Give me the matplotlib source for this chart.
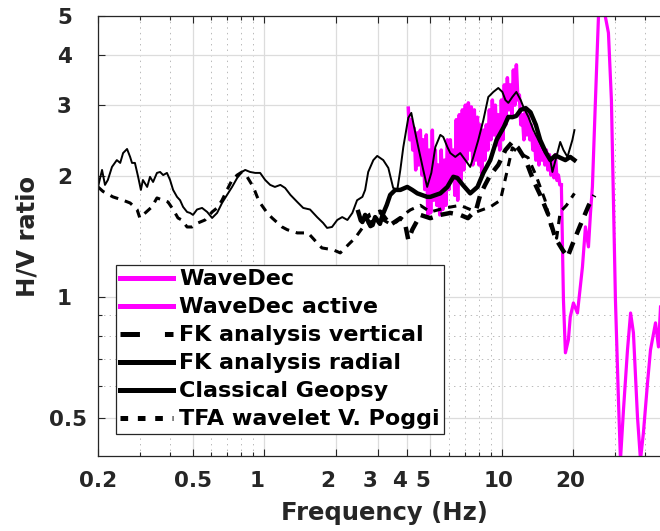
import matplotlib
matplotlib.use("Agg")
import matplotlib.pyplot as plt
from matplotlib.ticker import FixedLocator, FixedFormatter, NullFormatter
from matplotlib.transforms import ScaledTranslation

# H/V spectral ratio curves, frequency in Hz
wavedec_f = [4.04, 4.10, 4.16, 4.22, 4.28, 4.34, 4.41, 4.47, 4.54, 4.61,
             4.67, 4.74, 4.81, 4.88, 4.95, 5.02, 5.10, 5.17, 5.25, 5.33,
             5.40, 5.48, 5.56, 5.64, 5.73, 5.81, 5.90, 5.99, 6.07, 6.16,
             6.25, 6.34, 6.43, 6.52, 6.62, 6.72, 6.82, 6.92, 7.02, 7.12,
             7.23, 7.34, 7.44, 7.55, 7.66, 7.77, 7.89, 8.01, 8.12, 8.24,
             8.36, 8.48, 8.60, 8.73, 8.86, 8.99, 9.12, 9.25, 9.39, 9.53,
             9.66, 9.80, 9.95, 10.10, 10.24, 10.39, 10.55, 10.70, 10.86, 11.02,
             11.18, 11.34, 11.51, 11.68, 11.85, 12.02, 12.20, 12.38, 12.56, 12.74,
             12.93, 13.12, 13.31, 13.51, 13.70, 13.90, 14.11, 14.32, 14.52, 14.73,
             14.95, 15.17, 15.39, 15.62, 15.85, 16.08, 16.32, 16.56, 16.80, 17.05,
             17.29, 17.54, 17.80]
wavedec_hv = [2.95, 2.46, 2.76, 2.32, 2.63, 2.07, 2.56, 2.13, 2.60, 2.01,
              2.46, 1.85, 2.53, 1.60, 2.32, 1.62, 2.60, 1.74, 2.32, 1.69,
              2.13, 1.60, 2.32, 1.65, 2.19, 1.69, 2.46, 1.85, 2.46, 2.01,
              2.32, 1.79, 2.76, 1.74, 2.84, 1.95, 2.92, 2.07, 3.00, 2.19,
              3.04, 2.32, 2.97, 2.13, 2.92, 2.19, 2.80, 2.13, 2.68, 2.01,
              2.60, 2.19, 2.68, 2.32, 2.92, 2.46, 3.09, 2.53, 3.00, 2.39,
              2.84, 2.32, 3.09, 2.46, 3.37, 2.68, 3.51, 2.92, 3.37, 2.84,
              3.67, 3.00, 3.78, 3.09, 3.18, 2.68, 2.84, 2.46, 2.92, 2.53,
              2.84, 2.46, 2.68, 2.32, 2.53, 2.19, 2.46, 2.13, 2.39, 2.19,
              2.32, 2.13, 2.32, 2.07, 2.26, 2.01, 2.19, 1.98, 2.26, 1.95,
              2.01, 1.90, 1.90]

active_f = [17.80, 18.16, 18.51, 19.05, 19.4, 20.0, 20.8, 21.83, 22.47, 23.14,
            23.6, 24.04, 24.76, 25.49, 26.0, 26.75, 27.27, 28.08, 28.9, 29.47,
            30.05, 30.94, 31.55, 32.48, 33.77, 34.8, 35.77, 37.2, 38.3, 39.4,
            41.0, 42.2, 44.3, 45.6, 46.5]
active_hv = [1.90, 0.983, 0.726, 0.782, 0.892, 0.966, 0.912, 1.187, 1.494, 1.332,
             1.618, 1.878, 3.09, 4.97, 6.15, 5.8, 4.97, 4.54, 3.09, 1.743,
             0.983, 0.554, 0.393, 0.523, 0.738, 0.912, 0.814, 0.503, 0.393, 0.459,
             0.611, 0.738, 0.862, 0.751, 0.944]

fkv_f = [2.54, 2.79, 3.08, 3.39, 3.74, 3.90, 4.04, 4.20, 4.54, 5.00,
         5.51, 6.07, 6.68, 7.20, 7.80, 8.11, 8.50, 8.94, 9.66, 10.35,
         11.07, 11.70, 12.60, 13.57, 14.50, 15.70, 16.80, 18.00, 18.90, 19.80,
         21.40, 23.20, 24.50]
fkv_hv = [1.536, 1.60, 1.63, 1.51, 1.57, 1.54, 1.386, 1.47, 1.60, 1.57,
          1.60, 1.618, 1.60, 1.57, 1.65, 1.794, 1.90, 2.01, 2.13, 2.32,
          2.43, 2.35, 2.19, 1.95, 1.794, 1.60, 1.40, 1.31, 1.257, 1.35,
          1.51, 1.69, 1.79]

fkr_f = [2.49, 2.55, 2.59, 2.66, 2.72, 2.80, 2.86, 2.93, 2.99, 3.07,
         3.15, 3.28, 3.39, 3.56, 3.74, 4.00, 4.20, 4.41, 4.85, 5.00,
         5.51, 5.90, 6.25, 6.50, 6.85, 7.36, 7.90, 8.36, 8.94, 9.50,
         10.20, 10.65, 11.07, 11.50, 12.00, 12.60, 13.20, 13.90, 14.50, 15.30,
         16.00, 16.80, 17.60, 18.50, 19.40, 20.20]
fkr_hv = [1.627, 1.55, 1.536, 1.60, 1.554, 1.50, 1.51, 1.58, 1.554, 1.52,
          1.60, 1.694, 1.794, 1.846, 1.846, 1.878, 1.846, 1.81, 1.774, 1.774,
          1.81, 1.878, 1.99, 1.977, 1.90, 1.81, 1.878, 2.035, 2.19, 2.457,
          2.65, 2.805, 2.80, 2.82, 2.92, 2.95, 2.88, 2.68, 2.457, 2.29,
          2.19, 2.25, 2.22, 2.19, 2.23, 2.19]

geopsy_f = [0.200, 0.208, 0.214, 0.220, 0.229, 0.240, 0.248, 0.255, 0.265, 0.273,
            0.278, 0.286, 0.295, 0.303, 0.309, 0.322, 0.331, 0.341, 0.354, 0.365,
            0.376, 0.390, 0.402, 0.414, 0.430, 0.443, 0.456, 0.474, 0.488, 0.502,
            0.522, 0.548, 0.576, 0.604, 0.634, 0.665, 0.698, 0.733, 0.770, 0.807,
            0.832, 0.873, 0.917, 0.962, 1.01, 1.06, 1.11, 1.17, 1.225, 1.29,
            1.378, 1.46, 1.56, 1.67, 1.77, 1.84, 1.93, 2.03, 2.13, 2.24,
            2.35, 2.46, 2.59, 2.66, 2.74, 2.88, 2.99, 3.17, 3.33, 3.49,
            3.63, 3.74, 3.85, 4.04, 4.16, 4.24, 4.45, 4.67, 4.85, 5.05,
            5.25, 5.51, 5.67, 5.90, 6.07, 6.37, 6.68, 7.02, 7.36, 7.59,
            7.96, 8.36, 8.77, 9.21, 9.66, 10.05, 10.35, 10.65, 11.07, 11.51,
            12.0, 12.32, 12.93, 13.57, 14.24, 14.95, 16.0, 16.32, 17.12, 17.6,
            18.16, 18.88, 19.8, 20.2]
geopsy_hv = [1.878, 2.07, 1.90, 1.954, 2.106, 2.19, 2.155, 2.28, 2.334, 2.23,
             2.155, 2.155, 1.99, 1.846, 1.954, 1.878, 1.99, 1.932, 2.035, 2.046,
             2.01, 2.035, 1.954, 1.846, 1.774, 1.74, 1.675, 1.627, 1.618, 1.60,
             1.65, 1.665, 1.627, 1.572, 1.618, 1.713, 1.794, 1.878, 1.977, 2.046,
             2.07, 2.046, 2.035, 2.035, 1.954, 1.90, 1.878, 1.90, 1.867, 1.794,
             1.723, 1.665, 1.65, 1.58, 1.528, 1.485, 1.493, 1.554, 1.58, 1.554,
             1.618, 1.74, 1.774, 1.846, 2.046, 2.19, 2.243, 2.19, 2.094, 1.867,
             1.846, 2.07, 2.36, 2.79, 2.87, 2.71, 2.36, 2.07, 1.878, 2.035,
             2.36, 2.53, 2.50, 2.36, 2.28, 2.23, 2.28, 2.19, 2.106, 2.23,
             2.457, 2.755, 3.144, 3.236, 3.31, 3.236, 3.09, 3.04, 3.144, 3.236,
             3.09, 2.97, 2.805, 2.603, 2.457, 2.32, 2.19, 2.046, 2.28, 2.43,
             2.32, 2.23, 2.457, 2.60]

tfa_f = [0.200, 0.210, 0.231, 0.255, 0.273, 0.292, 0.300, 0.316, 0.337, 0.354,
         0.376, 0.394, 0.414, 0.434, 0.450, 0.474, 0.497, 0.527, 0.564, 0.604,
         0.634, 0.665, 0.698, 0.733, 0.770, 0.807, 0.848, 0.900, 0.935, 0.962,
         1.03, 1.08, 1.19, 1.25, 1.378, 1.53, 1.67, 1.75, 1.95, 2.09,
         2.30, 2.41, 2.59, 2.79, 3.08, 3.33, 3.60, 3.85, 4.12, 4.54,
         5.00, 5.78, 6.68, 7.80, 8.94, 9.86, 10.55, 11.07, 11.70, 12.90,
         13.90, 15.20, 16.00, 17.00, 17.60, 18.70, 20.20]
tfa_hv = [1.878, 1.83, 1.774, 1.74, 1.713, 1.65, 1.572, 1.618, 1.675, 1.763,
          1.74, 1.723, 1.65, 1.572, 1.554, 1.493, 1.493, 1.528, 1.554, 1.627,
          1.665, 1.74, 1.846, 1.954, 2.01, 2.046, 1.99, 1.878, 1.774, 1.713,
          1.618, 1.572, 1.493, 1.47, 1.443, 1.443, 1.363, 1.324, 1.31, 1.287,
          1.363, 1.40, 1.485, 1.536, 1.57, 1.528, 1.536, 1.60, 1.646, 1.69,
          1.627, 1.665, 1.69, 1.627, 1.675, 1.74, 2.07, 2.35, 2.29, 2.22,
          2.01, 1.74, 1.51, 1.40, 1.627, 1.69, 1.81]

x_ticks = [0.2, 0.5, 1, 2, 3, 4, 5, 10, 20]
x_ticklabels = ["0.2", "0.5", "1", "2", "3", "4", "5", "10", "20"]
x_minor = [0.3, 0.4, 0.6, 0.7, 0.8, 0.9, 6, 7, 8, 9, 30, 40]
y_ticks = [0.5, 1, 2, 3, 4, 5]
y_ticklabels = ["0.5", "1", "2", "3", "4", "5"]
y_minor = [0.6, 0.7, 0.8, 0.9]

labels = ["WaveDec", "WaveDec active", "FK analysis vertical",
          "FK analysis radial", "Classical Geopsy", "TFA wavelet V. Poggi"]

plt.rcParams["font.family"] = "DejaVu Sans"
plt.rcParams["font.weight"] = "bold"
plt.rcParams["lines.scale_dashes"] = False

GRAY = "#262626"
MAG = "#ff00ff"

fig = plt.figure(figsize=(6.6, 5.31), dpi=100)
ax = fig.add_axes([98 / 660, 1 - 456 / 531, 570 / 660, 440 / 531])

ax.plot(wavedec_f, wavedec_hv, color=MAG, lw=2.5, label=labels[0])
ax.plot(active_f, active_hv, color=MAG, lw=2.3, label=labels[1])
ax.plot(fkv_f, fkv_hv, color="k", lw=3.2, dashes=(9, 6), label=labels[2])
ax.plot(fkr_f, fkr_hv, color="k", lw=3.2, label=labels[3])
ax.plot(geopsy_f, geopsy_hv, color="k", lw=1.4, label=labels[4])
ax.plot(tfa_f, tfa_hv, color="k", lw=2.2, dashes=(6, 5), label=labels[5])

ax.set_xscale("log")
ax.set_yscale("log")
ax.set_xlim(0.2, 50)
ax.set_ylim(0.402, 5)

ax.xaxis.set_major_locator(FixedLocator(x_ticks))
ax.xaxis.set_major_formatter(FixedFormatter(x_ticklabels))
ax.xaxis.set_minor_locator(FixedLocator(x_minor))
ax.xaxis.set_minor_formatter(NullFormatter())
ax.yaxis.set_major_locator(FixedLocator(y_ticks))
ax.yaxis.set_major_formatter(FixedFormatter(y_ticklabels))
ax.yaxis.set_minor_locator(FixedLocator(y_minor))
ax.yaxis.set_minor_formatter(NullFormatter())

ax.grid(which="major", color="#dcdcdc", lw=0.9, ls="-")
ax.grid(which="minor", color="#b8b8b8", lw=0.7, ls=(0, (1, 3)))
ax.set_axisbelow(True)

ax.tick_params(which="both", direction="in", top=True, right=True,
               colors=GRAY, width=0.8)
ax.tick_params(which="major", length=5, labelsize=15.5)
ax.tick_params(which="minor", length=3)
ax.tick_params(axis="x", which="major", pad=11)
ax.tick_params(axis="y", which="major", pad=8)
for sp in ax.spines.values():
    sp.set_color(GRAY)
    sp.set_linewidth(0.9)

# short labels sit as if padded to the width of "0.5"
def nudge(lbl, dx_px):
    lbl.set_transform(lbl.get_transform()
                      + ScaledTranslation(dx_px / 100, 0, fig.dpi_scale_trans))

for lbl in ax.get_xticklabels():
    n = len(lbl.get_text())
    if n < 3:
        nudge(lbl, -7.5 if n == 1 else -3.7)
for lbl in ax.get_yticklabels():
    if len(lbl.get_text()) == 1:
        nudge(lbl, -15)

ax.set_xlabel("Frequency (Hz)", fontsize=17.5, fontweight="bold",
              color=GRAY, va="center")
ax.xaxis.set_label_coords(0.502, -0.129)
ax.set_ylabel("H/V ratio", fontsize=17.5, fontweight="bold",
              color=GRAY, va="center")
ax.yaxis.set_label_coords(-0.124, 0.5)

leg = ax.legend(loc="upper left", bbox_to_anchor=(0.0316, 0.434),
                borderaxespad=0, prop={"weight": "bold", "size": 16},
                frameon=True, fancybox=False, framealpha=1,
                edgecolor=GRAY, borderpad=0.2, handlelength=2.35,
                handletextpad=0.3, labelspacing=0.36)
leg.get_frame().set_linewidth(0.9)
for ln in leg.get_lines():
    ln.set_linewidth(3.6)
leg.get_lines()[2].set_dashes((14, 18))
leg.get_lines()[5].set_dashes((5.5, 7))

fig.savefig("out.png", dpi=100)
